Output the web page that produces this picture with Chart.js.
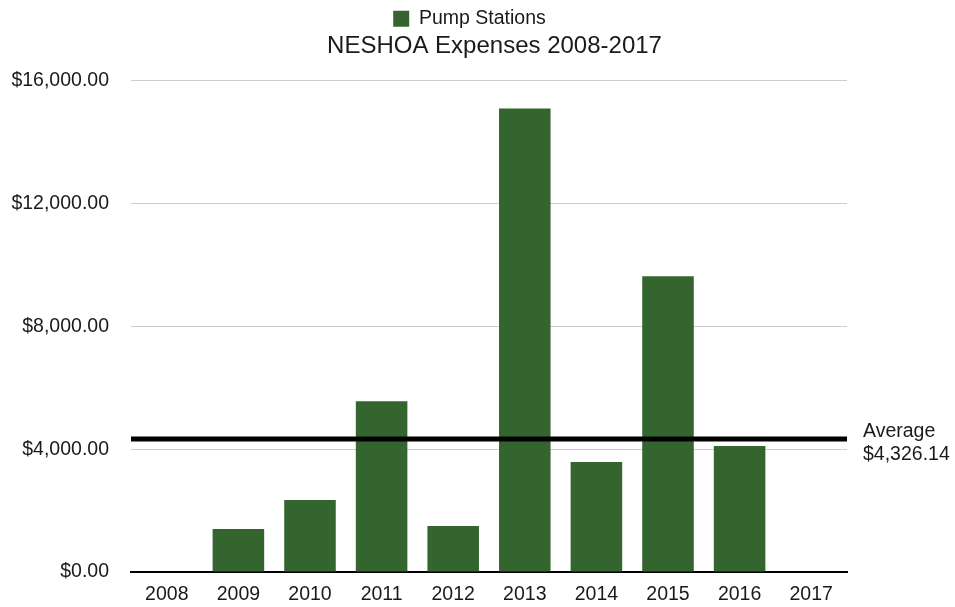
<!DOCTYPE html>
<html>
<head>
<meta charset="utf-8">
<script src="https://cdn.jsdelivr.net/npm/chart.js@4/dist/chart.umd.min.js"></script>
<style>
  html, body { margin: 0; padding: 0; background: #fff; }
  #wrap { width: 955px; height: 607px; position: relative; }
</style>
</head>
<body>
<div id="wrap"><canvas id="c"></canvas></div>
<script>
const categories = ['2008', '2009', '2010', '2011', '2012', '2013', '2014', '2015', '2016', '2017'];
const pumpStations = [0, 1400, 2340, 5560, 1500, 15090, 3580, 9630, 4100, 0];
const averageValue = 4326.14;
const averageLabel = ['Average', '$4,326.14'];
const yTicks = [0, 4000, 8000, 12000, 16000];

const FONT = '"Liberation Sans", Helvetica, Arial, sans-serif';
const TEXT = '#1a1a1a';

const averagePlugin = {
  id: 'averageLine',
  afterLayout(chart) {
    // nudge legend and title horizontally to where the reference puts them
    if (chart.legend) { chart.legend.left -= 8; chart.legend.right -= 8; }
    if (chart.titleBlock) { chart.titleBlock.left += 17; chart.titleBlock.right += 17; }
  },
  afterDatasetsDraw(chart) {
    const { ctx, chartArea, scales } = chart;
    const y = scales.y.getPixelForValue(averageValue);
    ctx.save();
    ctx.strokeStyle = '#000';
    ctx.lineWidth = 5;
    ctx.beginPath();
    ctx.moveTo(chartArea.left, y);
    ctx.lineTo(chartArea.right, y);
    ctx.stroke();
    ctx.fillStyle = TEXT;
    ctx.font = '19.5px ' + FONT;
    ctx.textAlign = 'left';
    ctx.textBaseline = 'middle';
    ctx.fillText(averageLabel[0], chartArea.right + 16, y - 7);
    ctx.fillText(averageLabel[1], chartArea.right + 16, y + 16);
    ctx.restore();
  }
};

new Chart(document.getElementById('c'), {
  type: 'bar',
  data: {
    labels: categories,
    datasets: [{
      label: 'Pump Stations',
      data: pumpStations,
      backgroundColor: '#35652f',
      borderWidth: 0,
      categoryPercentage: 1.0,
      barPercentage: 0.72
    }]
  },
  options: {
    responsive: true,
    maintainAspectRatio: false,
    animation: false,
    layout: { padding: { left: 0, right: 0, top: 9, bottom: 0 } },
    plugins: {
      legend: {
        display: true,
        position: 'top',
        weight: 3000,
        labels: {
          font: { family: FONT, size: 19.5 },
          color: TEXT,
          boxWidth: 16,
          boxHeight: 16,
          padding: 0
        }
      },
      title: {
        display: true,
        text: 'NESHOA Expenses 2008-2017',
        font: { family: FONT, size: 24, weight: 'normal', lineHeight: 1 },
        color: TEXT,
        padding: { top: -4, bottom: 22 }
      },
      tooltip: { enabled: false }
    },
    scales: {
      x: {
        afterFit(scale) { scale.height = 35; },
        grid: { display: false, drawTicks: false },
        border: { display: true, color: '#000', width: 2 },
        ticks: { font: { family: FONT, size: 19.5 }, color: TEXT, padding: 11, maxRotation: 0 }
      },
      y: {
        min: 0,
        max: 16000,
        afterFit(scale) { scale.width = 131; },
        afterBuildTicks(scale) { scale.ticks = yTicks.map(v => ({ value: v })); },
        grid: { color: '#cccccc', lineWidth: 1, drawTicks: false },
        border: { display: false },
        ticks: {
          font: { family: FONT, size: 19.5 },
          color: TEXT,
          padding: 22,
          callback: v => '$' + Number(v).toLocaleString('en-US', { minimumFractionDigits: 2, maximumFractionDigits: 2 })
        }
      },
      yRight: {
        position: 'right',
        min: 0,
        max: 16000,
        afterFit(scale) { scale.width = 108; },
        grid: { display: false, drawTicks: false },
        border: { display: false },
        ticks: { display: false }
      }
    }
  },
  plugins: [averagePlugin]
});
</script>
</body>
</html>
